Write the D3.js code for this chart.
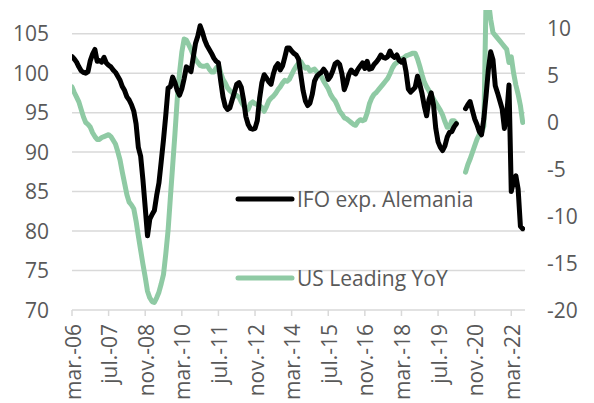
<!DOCTYPE html>
<html>
<head>
<meta charset="utf-8">
<script src="https://cdn.jsdelivr.net/npm/d3@7"></script>
<style>
    body { margin: 0; background: #fff; }
    text { font-family: "Open Sans", sans-serif; fill: #595959; }
</style>
</head>
<body>
<script>
// x tick labels, one every 16 months starting mar-06
var tickLabels = ["mar.-06", "jul.-07", "nov.-08", "mar.-10", "jul.-11", "nov.-12", "mar.-14",
    "jul.-15", "nov.-16", "mar.-18", "jul.-19", "nov.-20", "mar.-22"];

var leftTicks = [70, 75, 80, 85, 90, 95, 100, 105];
var rightTicks = [-20, -15, -10, -5, 0, 5, 10];

// monthly values, mar-06 .. aug-22 (apr-jun 2020 left empty)
var ifo = [
    102.1, 101.8, 101.4, 100.8, 100.3, 100.1, 100.0, 100.2, 101.6, 102.4,
    103.0, 101.5, 101.6, 101.4, 102.0, 101.3, 101.0, 100.8, 100.4, 100.1,
    99.6, 99.1, 98.3, 97.8, 97.0, 96.6, 96.0, 95.2, 93.6, 90.6,
    89.5, 86.5, 83.0, 79.4, 81.5, 82.1, 82.6, 84.5, 86.1, 88.8,
    91.6, 94.7, 98.1, 98.3, 99.5, 98.8, 97.8, 97.2, 98.0, 99.3,
    100.8, 100.5, 100.2, 102.0, 103.8, 104.7, 106.0, 105.2, 104.2, 103.5,
    103.0, 102.5, 101.9, 101.5, 101.3, 99.0, 97.0, 95.8, 95.4, 95.6,
    96.6, 97.6, 98.6, 98.8, 98.2, 96.6, 94.5, 93.5, 93.0, 92.9,
    93.0, 94.0, 96.8, 98.8, 99.8, 99.4, 98.9, 98.6, 99.9, 100.8,
    101.2, 100.4, 100.9, 102.0, 103.2, 103.2, 102.8, 102.5, 102.3, 101.8,
    99.8, 97.8, 96.5, 95.9, 96.2, 97.3, 99.0, 99.6, 99.9, 100.1,
    100.5, 100.1, 99.2, 99.6, 100.3, 101.2, 101.4, 101.1, 99.9, 97.9,
    98.7, 99.8, 100.4, 100.1, 99.9, 100.5, 100.9, 101.3, 100.6, 101.5,
    100.5, 100.6, 101.1, 101.4, 101.8, 102.3, 102.0, 101.9, 102.1, 102.8,
    102.2, 102.0, 102.3, 101.6, 101.4, 101.7, 100.2, 98.0, 97.6, 97.9,
    98.2, 99.6, 98.6, 97.4, 95.8, 94.6, 96.6, 97.5, 96.0, 93.0,
    91.3, 90.6, 90.2, 90.8, 91.9, 92.5, 92.6, 93.2, 93.6, null,
    null, null, 95.5, 96.0, 96.4, 95.3, 94.2, 93.5, 92.6, 92.2,
    94.2, 97.2, 100.5, 102.7, 101.7, 98.4, 97.5, 96.5, 95.5, 93.0,
    94.6, 98.5, 85.0, 86.3, 87.0, 85.3, 80.6, 80.3
];

var usLeading = [
    3.8, 3.2, 2.7, 2.2, 1.4, 0.6, 0.0, -0.2, -0.5, -1.1,
    -1.5, -1.8, -1.8, -1.6, -1.5, -1.4, -1.3, -1.5, -1.9, -2.3,
    -3.1, -4.0, -5.3, -6.5, -7.7, -8.5, -8.8, -9.2, -10.5, -12.1,
    -13.6, -15.1, -16.5, -18.0, -18.7, -19.1, -19.2, -18.7, -18.1, -17.2,
    -16.2, -14.0, -11.5, -8.0, -4.6, -1.2, 2.5, 5.3, 7.5, 8.9,
    8.8, 8.3, 7.8, 7.2, 6.7, 6.4, 6.1, 6.0, 6.0, 6.1,
    5.7, 5.4, 5.4, 5.8, 6.1, 5.3, 4.6, 4.2, 3.7, 3.4,
    3.2, 2.8, 2.9, 2.7, 2.2, 1.8, 1.5, 1.4, 2.0, 2.2,
    2.0, 1.9, 1.8, 1.6, 1.2, 1.7, 2.3, 2.6, 2.8, 3.1,
    3.5, 3.8, 4.2, 4.5, 4.4, 4.6, 5.1, 5.6, 6.0, 6.3,
    6.5, 6.1, 5.8, 5.9, 5.5, 5.6, 5.7, 5.4, 5.2, 4.9,
    4.4, 4.0, 3.6, 3.0, 2.6, 2.3, 1.8, 1.2, 0.9, 0.5,
    0.4, 0.2, 0.0, -0.2, -0.3, 0.1, 0.3, 0.2, 0.3, 1.0,
    2.0, 2.6, 3.0, 3.2, 3.5, 3.8, 4.1, 4.4, 4.7, 5.2,
    5.8, 6.2, 6.4, 6.6, 6.8, 6.9, 7.1, 7.2, 7.3, 7.4,
    7.4, 6.8, 6.0, 5.1, 4.3, 3.8, 3.4, 2.9, 2.5, 2.1,
    1.7, 1.3, 0.8, 0.1, -0.5, -0.5, 0.2, 0.2, -0.1, null,
    null, null, -5.3, -4.5, -3.9, -3.2, -2.5, -1.8, -1.3, -1.1,
    -0.4, 13.5, 13.0, 11.0, 9.6, 9.3, 9.0, 8.7, 8.4, 8.1,
    7.8, 6.4, 7.0, 5.3, 4.0, 3.0, 1.8, 0.0
];

var width = 594, height = 403;
var plotLeft = 72, plotRight = 525, plotTop = 10, plotBottom = 310;

var svg = d3.select("body")
    .append("svg")
    .attr("width", width)
    .attr("height", height);

var x = d3.scaleLinear().domain([0, 198]).range([plotLeft, plotRight]);
var yL = d3.scaleLinear().domain([70, 108]).range([plotBottom, plotTop]);
var yR = d3.scaleLinear().domain([-20, 12]).range([plotBottom, plotTop]);

// gridlines
svg.append("g")
    .selectAll("line")
    .data(leftTicks.slice(1))
    .enter()
    .append("line")
    .attr("x1", plotLeft)
    .attr("x2", plotRight)
    .attr("y1", (d) => yL(d))
    .attr("y2", (d) => yL(d))
    .style("stroke", "#d9d9d9")
    .style("stroke-width", "1.5px");

// left axis labels
svg.append("g")
    .selectAll("text")
    .data(leftTicks)
    .enter()
    .append("text")
    .attr("x", 49)
    .attr("y", (d) => yL(d))
    .attr("dy", "0.36em")
    .attr("text-anchor", "end")
    .style("font-size", "21px")
    .text((d) => d);

// right axis labels
svg.append("g")
    .selectAll("text")
    .data(rightTicks)
    .enter()
    .append("text")
    .attr("x", 547)
    .attr("y", (d) => yR(d))
    .attr("dy", "0.36em")
    .style("font-size", "21px")
    .text((d) => d);

// x axis line + ticks
var xAxis = svg.append("g").attr("transform", "translate(0," + plotBottom + ")");
xAxis.append("line")
    .attr("x1", plotLeft)
    .attr("x2", plotRight)
    .style("stroke", "#d9d9d9")
    .style("stroke-width", "1.5px");

xAxis.selectAll(".tick")
    .data(tickLabels)
    .enter()
    .append("line")
    .attr("x1", (d, i) => x(i * 16))
    .attr("x2", (d, i) => x(i * 16))
    .attr("y1", 0)
    .attr("y2", 6)
    .style("stroke", "#d9d9d9")
    .style("stroke-width", "1.5px");

xAxis.selectAll("text")
    .data(tickLabels)
    .enter()
    .append("text")
    .attr("transform", (d, i) => "translate(" + (x(i * 16) + 1) + ",14) rotate(-90)")
    .attr("dy", "0.36em")
    .attr("text-anchor", "end")
    .style("font-size", "21px")
    .text((d) => d);

// clip lines to the plot area
svg.append("clipPath")
    .attr("id", "plot")
    .append("rect")
    .attr("x", plotLeft)
    .attr("y", plotTop)
    .attr("width", plotRight - plotLeft)
    .attr("height", plotBottom - plotTop);

var lineL = d3.line()
    .defined((d) => d != null)
    .x((d, i) => x(i))
    .y((d) => yL(d));

var lineR = d3.line()
    .defined((d) => d != null)
    .x((d, i) => x(i))
    .y((d) => yR(d));

var lines = svg.append("g").attr("clip-path", "url(#plot)");

lines.append("path")
    .datum(usLeading)
    .attr("d", lineR)
    .style("fill", "none")
    .style("stroke", "#8fcaa4")
    .style("stroke-width", "5px")
    .style("stroke-linejoin", "round")
    .style("stroke-linecap", "round");

lines.append("path")
    .datum(ifo)
    .attr("d", lineL)
    .style("fill", "none")
    .style("stroke", "#000")
    .style("stroke-width", "5px")
    .style("stroke-linejoin", "round")
    .style("stroke-linecap", "round");

// legend
var legend = [
    { name: "IFO exp. Alemania", color: "#000", y: 199 },
    { name: "US Leading YoY", color: "#8fcaa4", y: 278 }
];

var leg = svg.append("g")
    .selectAll("g")
    .data(legend)
    .enter()
    .append("g")
    .attr("transform", (d) => "translate(0," + d.y + ")");

leg.append("line")
    .attr("x1", 238)
    .attr("x2", 292)
    .style("stroke", (d) => d.color)
    .style("stroke-width", "5px")
    .style("stroke-linecap", "round");

leg.append("text")
    .attr("x", 297)
    .attr("dy", "0.36em")
    .style("font-size", "21px")
    .text((d) => d.name);
</script>
</body>
</html>
